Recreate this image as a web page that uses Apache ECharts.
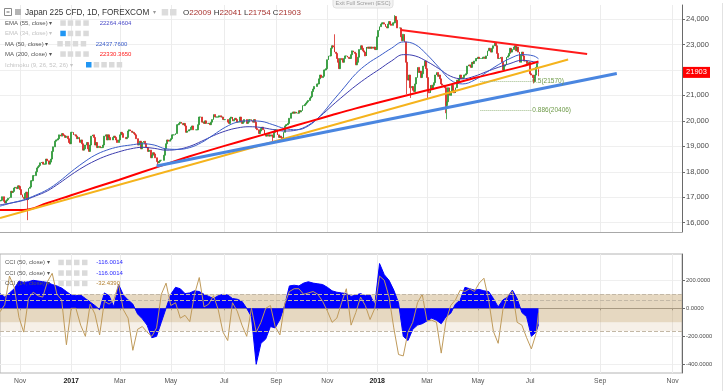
<!DOCTYPE html>
<html><head><meta charset="utf-8">
<script src="https://cdn.jsdelivr.net/npm/echarts@6.0.0/dist/echarts.min.js"></script>
<style>html,body{margin:0;padding:0;background:#fff}#c{width:726px;height:391px}</style>
</head><body><div id="c"></div>
<script>
// ---------------- DATA ----------------
const startDate = '2016-10-07';
const lastBarDate = '2018-07-11';
const axisEndDate = '2018-11-09';
const closedDays = ['2016-12-26','2017-01-02','2017-12-25','2018-01-01'];

// daily closes, one per trading day (grouped by month)
const closes = [
 16860,16880,17020,16840,16775,16860,16900,16960,16990,17235,17185,17230,17360,17390,17340,17450,17425,
 17300,17100,17000,16950,17150,17200,16900,17350,17400,17650,17650,17850,17850,18000,18150,18200,18250,18350,18380,18300,18300,18300,
 18500,18430,18300,18380,18500,18800,18980,19200,19250,19250,19300,19450,19400,19500,19450,19420,19350,19400,19300,19150,19100,
 19550,19550,19450,19450,19400,19300,19350,19150,19250,19100,18850,18900,19050,19150,18900,18800,19050,19400,19450,19350,19050,
 19150,18950,19000,18950,18950,18950,19050,19400,19450,19250,19450,19350,19250,19250,19350,19400,19350,19250,19150,19250,
 19450,19550,19500,19350,19350,19300,19350,19600,19650,19600,19550,19550,19500,19450,19300,19050,19100,19200,18900,19150,19200,19100,18950,
 18950,18800,18850,18550,18650,18750,18700,18550,18400,18350,18400,18450,18450,18450,18650,18900,19100,19250,19200,19250,
 19300,19450,19450,19450,19500,19850,19850,19900,19950,19900,19850,19900,19800,19550,19600,19650,19650,19750,19800,19650,19650,19650,19650,
 19850,20150,20150,19950,19950,19900,20000,19900,19900,19900,19850,19950,20050,20250,20150,20150,20150,20150,20200,20150,20150,20050,
 20050,20050,20050,19950,19900,20100,20150,20000,20050,20100,20050,19950,19950,20150,20000,19900,19950,20050,20050,19900,19950,
 20050,20050,20000,19950,20050,19950,19700,19650,19500,19600,19700,19750,19650,19450,19400,19450,19450,19400,19450,19400,19350,19550,19650,
 19650,19450,19350,19400,19350,19250,19550,19800,19850,19850,19900,20100,20300,20300,20350,20300,20350,20300,20300,20400,20350,
 20400,20600,20600,20650,20700,20750,20800,20900,20950,21150,21250,21350,21350,21450,21450,21650,21800,21700,21750,22000,22000,22050,
 22400,22550,22550,22850,22950,22900,22700,22650,22450,22300,22050,22450,22400,22300,22450,22550,22550,22500,22450,22450,22600,22750,
 22700,22650,22200,22300,22500,22800,22950,22850,22750,22700,22550,22900,22850,22900,22850,22900,22850,22900,22800,22800,
 23300,23550,23700,23800,23850,23850,23800,23700,23650,23800,23900,23800,23750,23850,23850,24100,23950,23650,23650,23650,23300,23150,
 23400,23100,22300,21650,21600,21800,21300,21350,21200,21150,21450,21700,22100,21900,21950,21700,21850,22150,22350,22050,
 21700,21150,21100,21400,21250,21400,21500,21800,21900,21750,21800,21650,21450,21400,21350,21300,20600,20750,21300,21000,21150,21400,
 21200,21100,21300,21600,21500,21650,21800,21650,21700,21800,21800,21850,22150,22200,22150,22100,22300,22250,22350,22450,22450,
 22500,22450,22450,22450,22500,22500,22450,22550,22750,22850,22800,22700,22850,22950,23050,22950,22650,22450,22450,22500,22300,22000,22150,
 22200,22500,22550,22650,22850,22700,22800,22900,22950,22750,22900,22700,22300,22600,22700,22550,22350,22350,22250,22250,22300,
 21850,21800,21700,21550,21800,22100,22250,21903
];
const lastBar = [22009, 22041, 21754, 21903];            // O H L C of the last candle
const lowWicks = [['2016-11-09',16100],['2017-04-14',18220],['2017-08-29',19200],['2018-02-06',21050],
                  ['2018-02-09',20900],['2018-03-02',20900],['2018-03-23',20300],['2018-03-26',20062],['2018-07-05',21470]];
const highWicks = [['2017-11-09',23400],['2018-01-23',24150],['2018-05-21',23080]];

const ema55Step = 10;
const ema55 = [16700,16780,16880,17050,17250,17550,17880,18180,18430,18630,
 18780,18900,18960,18920,18850,18880,19000,19200,19420,19600,
 19720,19770,19740,19660,19600,19640,19830,20180,20600,21000,
 21380,21720,22030,22350,22600,22550,22330,22050,21750,21650,
 21750,21930,22100,22250,22380,22320,22264];
const ma50Step = 10;
const ma50 = [16650,16780,16900,17080,17300,17620,18000,18350,18650,18850,
 18980,19050,19100,19050,18900,18880,18950,19150,19450,19750,
 19950,20000,19980,19850,19700,19650,19800,20200,20750,21300,
 21850,22250,22550,22850,23100,23000,22600,22100,21600,21450,
 21600,21900,22200,22450,22600,22550,22438];
const ma200Step = 20;
const ma200 = [16500,16500,16775,17080,17380,17680,17990,18300,18610,18890,19160,19430,
 19690,19960,20230,20490,20730,20970,21200,21430,21680,21910,22140,22330];

const cciStep = 4;
const cci50 = [105,80,110,140,195,185,190,200,195,190,
 185,170,160,145,120,95,90,95,70,45,
 20,-10,110,90,10,170,95,60,30,-40,
 -75,-120,-210,-200,-100,0,100,150,140,105,
 110,125,120,100,85,70,90,100,95,70,
 65,50,0,-60,-400,-250,-220,-130,-140,-80,
 20,160,165,160,180,190,180,175,170,150,
 125,115,110,105,85,95,105,90,95,25,
 320,240,200,130,40,-200,-230,-150,-120,-110,
 -90,-70,-85,-110,-60,-35,30,60,150,140,
 130,135,125,120,70,10,60,80,130,70,
 -30,-60,-200,-170,-116];
const cci14 = [-25,25,230,150,-65,-170,70,115,90,80,
 190,250,100,60,-260,0,0,-120,-200,30,
 -40,-190,50,30,60,170,-10,-70,-300,-150,
 -130,-170,-200,-140,100,180,20,40,-70,-50,
 -95,100,220,10,30,90,-10,-170,-230,40,
 -20,-120,-200,0,-170,-100,0,20,-130,-190,
 30,120,140,140,100,110,120,100,50,-20,
 -100,-70,40,140,-120,-30,80,20,-80,0,
 230,200,80,-140,-330,-340,-170,-100,40,100,
 -90,-85,-100,-320,-90,20,60,130,120,140,
 120,180,215,60,-165,-250,-10,90,120,-100,
 -120,-210,-290,-180,-32];

// drawings
const trendRed = [['2018-01-30',23568],['2018-08-21',22625]];
const trendYellow = [['2016-10-07',16180],['2018-08-05',22413]];
const trendBlue = [['2017-04-13',18230],['2018-09-15',21863]];
const fibLevels = [['0.5',21570],['0.886',20406]];
const fibSpan = ['2018-05-03','2018-07-03'];

// ticks / labels
const priceTicks = [16000,17000,18000,19000,20000,21000,22000,23000,24000];
const cciTicks = [200,0,-200,-400];
const cciBandOuter = [100,-162];
const cciBandMid = -100;
const cciExtraLine = 59;
const lastPrice = 21903;
const legendVals = {ema55:'22264.4604', ma50:'22437.7600', ma200:'22330.3650', cci50:'-116.0014', cci14:'-32.4390'};
const MONTHS = ['Jan','Feb','Mar','Apr','May','Jun','Jul','Aug','Sep','Oct','Nov','Dec'];

// ---------------- BUILD ----------------
const DAY = 86400000;
const d2s = d => d.toISOString().slice(0,10);
const cats = [];
let dd = new Date(startDate+'T00:00:00Z');
const endPast = new Date(lastBarDate+'T00:00:00Z');
while (dd <= endPast) { const wd = dd.getUTCDay(); const s = d2s(dd);
  if (wd !== 0 && wd !== 6 && closedDays.indexOf(s) < 0) cats.push(s); dd = new Date(dd.getTime()+DAY); }
const nPast = cats.length;
const endAll = new Date(axisEndDate+'T00:00:00Z');
while (dd <= endAll) { cats.push(d2s(dd)); dd = new Date(dd.getTime()+DAY); }

const lowMap = Object.fromEntries(lowWicks), highMap = Object.fromEntries(highWicks);
const candles = closes.map((c,i) => {
  if (i === closes.length-1) return [lastBar[0], lastBar[3], lastBar[2], lastBar[1]];
  const o = i ? closes[i-1] : c; const date = cats[i];
  let lo = Math.min(o,c), hi = Math.max(o,c);
  if (lowMap[date] != null) lo = Math.min(lo, lowMap[date]);
  if (highMap[date] != null) hi = Math.max(hi, highMap[date]);
  return [o, c, lo, hi];
});
const sampled = (vals, step) => vals.map((v,k) => [cats[Math.min(k*step, nPast-1)], v]);

const tickSet = new Set();
for (let i = 1; i < cats.length; i++) {
  const m = +cats[i].slice(5,7);
  if (m !== +cats[i-1].slice(5,7) && m % 2 === 1) tickSet.add(i);
}
const tickFn = (idx) => tickSet.has(idx);
const FONT = 'Liberation Sans, Arial, sans-serif';

const chart = echarts.init(document.getElementById('c'), null, {renderer:'canvas'});
const option = {
  animation:false,
  backgroundColor:'#ffffff',
  grid:[
    {left:0, right:44, top:5, height:227, show:false},
    {left:0, right:44, top:254, height:119, show:true, borderColor:'#b4b4b4', borderWidth:1, backgroundColor:'transparent'}
  ],
  xAxis:[
    {type:'category', gridIndex:0, data:cats, boundaryGap:false,
     axisLine:{show:true, lineStyle:{color:'#a8a8a8'}}, axisTick:{show:false}, axisLabel:{show:false},
     splitLine:{show:true, interval:tickFn, lineStyle:{color:'#ececec'}}},
    {type:'category', gridIndex:1, data:cats, boundaryGap:false,
     axisLine:{show:true, lineStyle:{color:'#8c8c8c'}},
     axisTick:{show:true, interval:tickFn, length:2, lineStyle:{color:'#8c8c8c'}},
     splitLine:{show:true, interval:tickFn, lineStyle:{color:'#ececec'}},
     axisLabel:{interval:tickFn, color:'#555', fontSize:6.8, fontFamily:FONT, margin:5,
       formatter: v => { const m = +v.slice(5,7); return m === 1 ? '{y|'+v.slice(0,4)+'}' : MONTHS[m-1]; },
       rich:{y:{fontWeight:'bold', color:'#222', fontSize:7, fontFamily:FONT}}}}
  ],
  yAxis:[
    {type:'value', gridIndex:0, position:'right', min:15635, max:24550,
     axisLine:{show:true, lineStyle:{color:'#6a6a6a'}},
     axisTick:{show:true, length:3, customValues:priceTicks, lineStyle:{color:'#6a6a6a'}},
     axisLabel:{customValues:priceTicks, color:'#4a4a4a', fontSize:7.5, fontFamily:FONT, margin:4},
     splitLine:{show:true, lineStyle:{color:'#efefef'}}},
    {type:'value', gridIndex:1, position:'right', min:-462, max:388,
     axisLine:{show:true, lineStyle:{color:'#6a6a6a'}},
     axisTick:{show:true, length:3, customValues:cciTicks, lineStyle:{color:'#6a6a6a'}},
     axisLabel:{customValues:cciTicks, color:'#4a4a4a', fontSize:5.8, fontFamily:FONT, margin:4, formatter:v=>v.toFixed(4)},
     splitLine:{show:true, lineStyle:{color:'#efefef'}}}
  ],
  series:[
    {type:'candlestick', name:'Japan 225', xAxisIndex:0, yAxisIndex:0, data:candles, barWidth:1.4, z:2,
     itemStyle:{color:'#3fae47', color0:'#ee3a36', borderColor:'#2a9433', borderColor0:'#d8231f', borderWidth:0.8},
     markLine:{silent:true, symbol:'none', animation:false,
       lineStyle:{type:'dotted', color:'#9dbb86', width:1},
       label:{position:'end', color:'#6f9b4a', fontSize:6.5, fontFamily:FONT, distance:1, formatter:'{b}', padding:[6,0,0,0]},
       data: fibLevels.map(f => [{coord:[fibSpan[0], f[1]], name:f[0]+'('+f[1]+')'}, {coord:[fibSpan[1], f[1]]}])}},
    {type:'line', name:'EMA 55', xAxisIndex:0, yAxisIndex:0, data:sampled(ema55, ema55Step), smooth:0.4, symbol:'none', z:3,
     lineStyle:{color:'#3d3dae', width:1}},
    {type:'line', name:'MA 50', xAxisIndex:0, yAxisIndex:0, data:sampled(ma50, ma50Step), smooth:0.4, symbol:'none', z:3,
     lineStyle:{color:'#3a5cc8', width:1}},
    {type:'line', name:'MA 200', xAxisIndex:0, yAxisIndex:0, data:sampled(ma200, ma200Step), smooth:0.4, symbol:'none', z:3,
     lineStyle:{color:'#ff0000', width:2}},
    {type:'line', name:'trend red', xAxisIndex:0, yAxisIndex:0, data:trendRed, symbol:'none', z:4, lineStyle:{color:'#ff1a1a', width:2}},
    {type:'line', name:'trend yellow', xAxisIndex:0, yAxisIndex:0, data:trendYellow, symbol:'none', z:4, lineStyle:{color:'#f5b31c', width:2}},
    {type:'line', name:'trend blue', xAxisIndex:0, yAxisIndex:0, data:trendBlue, symbol:'none', z:4, lineStyle:{color:'#4a86e0', width:3}},
    {type:'line', name:'bands', xAxisIndex:1, yAxisIndex:1, data:[], z:1,
     markArea:{silent:true, data:[
       [{yAxis:cciBandOuter[0], itemStyle:{color:'rgba(200,168,118,0.45)'}},{yAxis:cciBandMid}],
       [{yAxis:cciBandMid, itemStyle:{color:'rgba(200,168,118,0.17)'}},{yAxis:cciBandOuter[1]}]]},
     markLine:{silent:true, symbol:'none', label:{show:false}, lineStyle:{type:'dashed', color:'#c3b8a6', width:1},
       data:[{yAxis:cciBandOuter[0]},{yAxis:cciExtraLine},{yAxis:cciBandOuter[1]}]}},
    {type:'line', name:'CCI 50', xAxisIndex:1, yAxisIndex:1, data:sampled(cci50, cciStep), symbol:'none', z:3,
     lineStyle:{color:'#0000ff', width:1}, areaStyle:{color:'#0000ff', opacity:1}},
    {type:'line', name:'CCI 14', xAxisIndex:1, yAxisIndex:1, data:sampled(cci14, cciStep), symbol:'none', z:4,
     lineStyle:{color:'#bf9a5a', width:1}}
  ]
};
chart.setOption(option);

// ---------------- TEXT OVERLAYS ----------------
function txt(x,y,text,size,color,bold,align){
  return {type:'text', x, y, silent:true, z:100,
    style:{text, fill:color, font:(bold?'bold ':'')+size+'px '+FONT, align:align||'left', verticalAlign:'middle'}};
}
function box(x,y,w,h,fill,stroke){
  return {type:'rect', silent:true, z:100, shape:{x,y,width:w,height:h}, style:{fill:fill, stroke:stroke||null, lineWidth:1}};
}
const g = [];
// exit full screen hint
g.push({type:'rect', silent:true, z:99, shape:{x:333,y:-3,width:60,height:11,r:3}, style:{fill:'#f3f3f3', stroke:'#e0e0e0'}});
g.push(txt(363, 3.5, 'Exit Full Screen (ESC)', 5.5, '#9a9a9a', false, 'center'));
// title row
g.push(box(4.5,8.5,7,7,'#ffffff','#8a8a8a'));
g.push({type:'line', silent:true, z:100, shape:{x1:6.5,y1:12,x2:9.5,y2:12}, style:{stroke:'#666', lineWidth:1}});
g.push(box(15,9,6,6,'#b4b4b4'));
g.push(txt(25,12.3,'Japan 225 CFD, 1D, FOREXCOM',8.2,'#333'));
g.push(txt(153,12.3,'▾',6,'#999'));
g.push(box(161.7,9,6.5,6.5,'#dcdcdc'));
g.push(box(170,9,6.5,6.5,'#dcdcdc'));
const ohlc = ['O','H','L','C']; const ohlcV = [lastBar[0],lastBar[1],lastBar[2],lastBar[3]];
g.push({type:'text', x:183, y:12.3, silent:true, z:100, style:{
  text: ohlc.map((k,i)=>'{k|'+k+'}{v|'+ohlcV[i]+'}').join(' '),
  font:'8px '+FONT, verticalAlign:'middle',
  rich:{k:{fill:'#333', font:'8px '+FONT}, v:{fill:'#a8322e', font:'8px '+FONT}}}});
// indicator legend rows
const rows = [
  {label:'EMA (55, close)', val:legendVals.ema55, vc:'#4b4bc8', y:23.3, ix:[60.3,67.7,75.3,83.3], vx:99.7},
  {label:'EMA (34, close)', y:33.7, ix:[60.3,67.7,75.3,83.3], blue:0, dim:true},
  {label:'MA (50, close)', val:legendVals.ma50, vc:'#3a5cc8', y:44, ix:[57.3,65,72.7,80.7], vx:95.7},
  {label:'MA (200, close)', val:legendVals.ma200, vc:'#ff1a1a', y:54.3, ix:[60.3,67.7,75.3,83.3], vx:99.7},
  {label:'Ichimoku (9, 26, 52, 26)', y:65, ix:[86,93.7,101.3,109,116.7], blue:0, dim:true},
  {label:'CCI (50, close)', val:legendVals.cci50, vc:'#2a2aff', y:262.7, ix:[58.3,66,74,82], vx:96.3},
  {label:'CCI (50, close)', val:legendVals.cci50, vc:'#2a2aff', y:273.3, ix:[58.3,66,74,82], vx:96.3},
  {label:'CCI (14, close)', val:legendVals.cci14, vc:'#b07d2b', y:283.7, ix:[58.3,66,74,82], vx:96.3}
];
rows.forEach(r => {
  g.push(txt(5, r.y, r.label+' ▾', 6, r.dim ? '#c4c4c4' : '#555'));
  r.ix.forEach((x,i) => g.push(box(x, r.y-3, 5.5, 5.5, r.blue === i ? '#2196f3' : '#dadada')));
  if (r.val) g.push(txt(r.vx, r.y, r.val, 6, r.vc));
});
// last price label on the price axis
const py = chart.convertToPixel({yAxisIndex:0}, lastPrice);
g.push(box(683, py-5.5, 27, 11, '#ff0000'));
g.push(txt(696.5, py, String(lastPrice), 7.5, '#ffffff', false, 'center'));
// right border
g.push({type:'line', silent:true, z:100, shape:{x1:722.5,y1:3,x2:722.5,y2:391}, style:{stroke:'#e2e2e2', lineWidth:1}});
chart.setOption({graphic:g});
</script>
</body></html>
